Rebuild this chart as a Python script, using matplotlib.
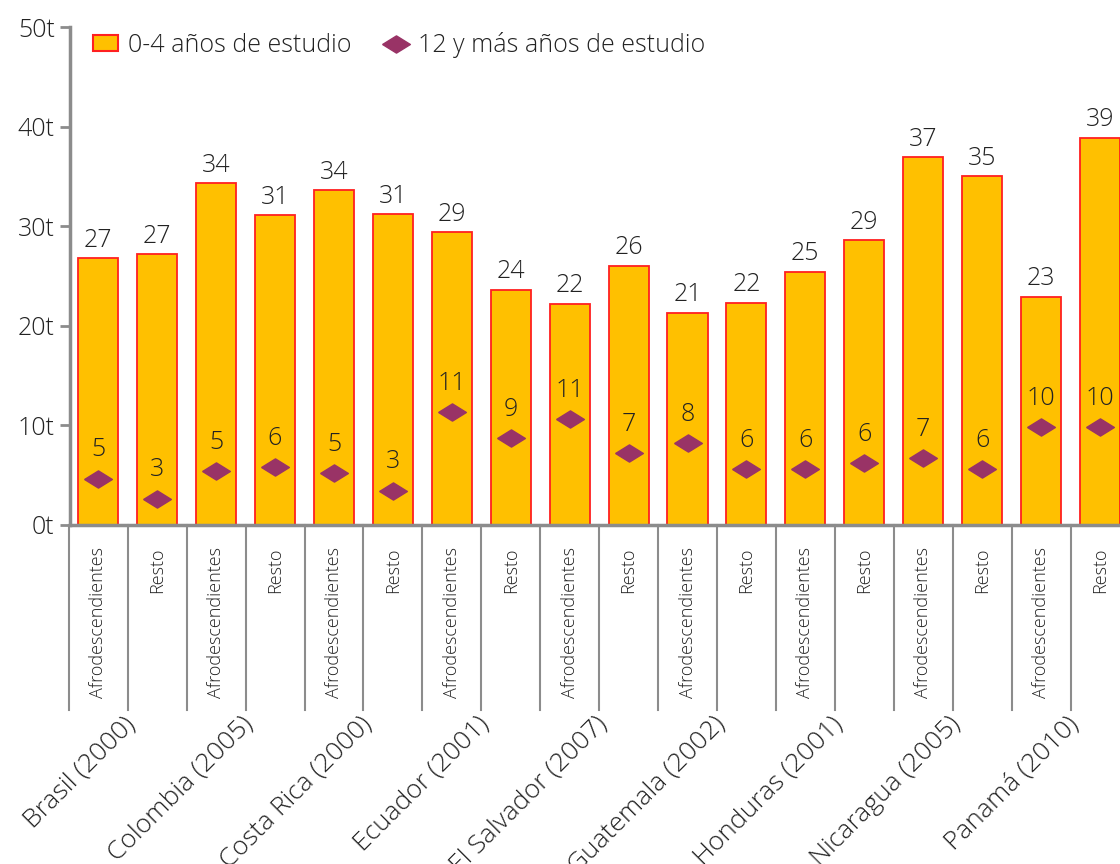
import matplotlib.pyplot as plt
import matplotlib.transforms as mtransforms
from matplotlib.lines import Line2D
from matplotlib.patches import Patch

plt.rcParams['font.family'] = ['Open Sans', 'DejaVu Sans']
plt.rcParams['font.weight'] = 'light'

countries = ["Brasil (2000)", "Colombia (2005)", "Costa Rica (2000)", "Ecuador (2001)",
             "El Salvador (2007)", "Guatemala (2002)", "Honduras (2001)",
             "Nicaragua (2005)", "Panamá (2010)"]
groups = ["Afrodescendientes", "Resto"]

# 0-4 años de estudio (barras)
low_edu = [26.8, 27.2, 34.3, 31.1, 33.6, 31.2, 29.4, 23.6, 22.2, 26.0,
           21.3, 22.3, 25.4, 28.6, 36.9, 35.0, 22.9, 38.9]
# 12 y más años de estudio (rombos)
high_edu = [4.6, 2.6, 5.4, 5.8, 5.2, 3.4, 11.3, 8.7, 10.6, 7.2,
            8.2, 5.6, 5.6, 6.2, 6.7, 5.6, 9.8, 9.8]

bar_color = "#FFC000"
edge_color = "#FF2020"
diamond_color = "#993366"
grey = "#8C8C8C"
text_color = "#222222"

# flat diamond marker
diamond = [(-1, 0), (0, 0.62), (1, 0), (0, -0.62), (-1, 0)]

fig = plt.figure(figsize=(11.2, 8.64), dpi=100)
ax = fig.add_axes([0.0625, 0.3924, 0.9375, 0.5763])

n = len(low_edu)
x = list(range(n))
ax.bar(x, low_edu, width=0.68, color=bar_color, edgecolor=edge_color, linewidth=1.3, zorder=2)
ax.plot(x, high_edu, marker=diamond, markersize=20, color=diamond_color,
        linestyle="none", zorder=3)

for xi, v in zip(x, low_edu):
    ax.annotate(f"{v:.0f}", (xi, v), xytext=(0, 4), textcoords="offset points",
                ha="center", va="bottom", fontsize=18, color=text_color)
for xi, v in zip(x, high_edu):
    ax.annotate(f"{v:.0f}", (xi, v), xytext=(0, 12), textcoords="offset points",
                ha="center", va="bottom", fontsize=18, color=text_color)

ax.set_xlim(-0.48, 17.34)
ax.set_ylim(0, 50)
ax.set_yticks([0, 10, 20, 30, 40, 50])
ax.set_yticklabels([f"{v}t" for v in [0, 10, 20, 30, 40, 50]])
ax.tick_params(axis="y", length=7, width=2, color=grey, labelsize=18,
               labelcolor=text_color, pad=4)

ax.set_xticks(x)
ax.set_xticklabels(groups * len(countries), rotation=90, va="top", fontsize=13,
                   color=text_color)
ax.tick_params(axis="x", length=0, pad=16)

for s in ["top", "right"]:
    ax.spines[s].set_visible(False)
for s in ["left", "bottom"]:
    ax.spines[s].set_color(grey)
    ax.spines[s].set_linewidth(2.5)

# separator lines below the axis
trans = mtransforms.blended_transform_factory(ax.transData, ax.transAxes)
for k in range(n + 1):
    ax.plot([k - 0.5, k - 0.5], [0, -0.372], transform=trans, color=grey,
            linewidth=1.5, clip_on=False)

for g, name in enumerate(countries):
    ax.text(2 * g + 0.42, -0.375, name, transform=trans, rotation=45,
            rotation_mode="anchor", ha="right", va="top", fontsize=19,
            color=text_color)

handles = [Patch(facecolor=bar_color, edgecolor=edge_color, linewidth=1.5),
           Line2D([], [], marker=diamond, markersize=20, color=diamond_color,
                  linestyle="none")]
ax.legend(handles, ["0-4 años de estudio", "12 y más años de estudio"],
          loc="upper left", bbox_to_anchor=(0.0, 1.035), ncol=2, frameon=False,
          fontsize=18, handlelength=1.0, handleheight=0.6, columnspacing=1.3,
          handletextpad=0.4, labelcolor=text_color)

fig.savefig("out.png", dpi=100)
